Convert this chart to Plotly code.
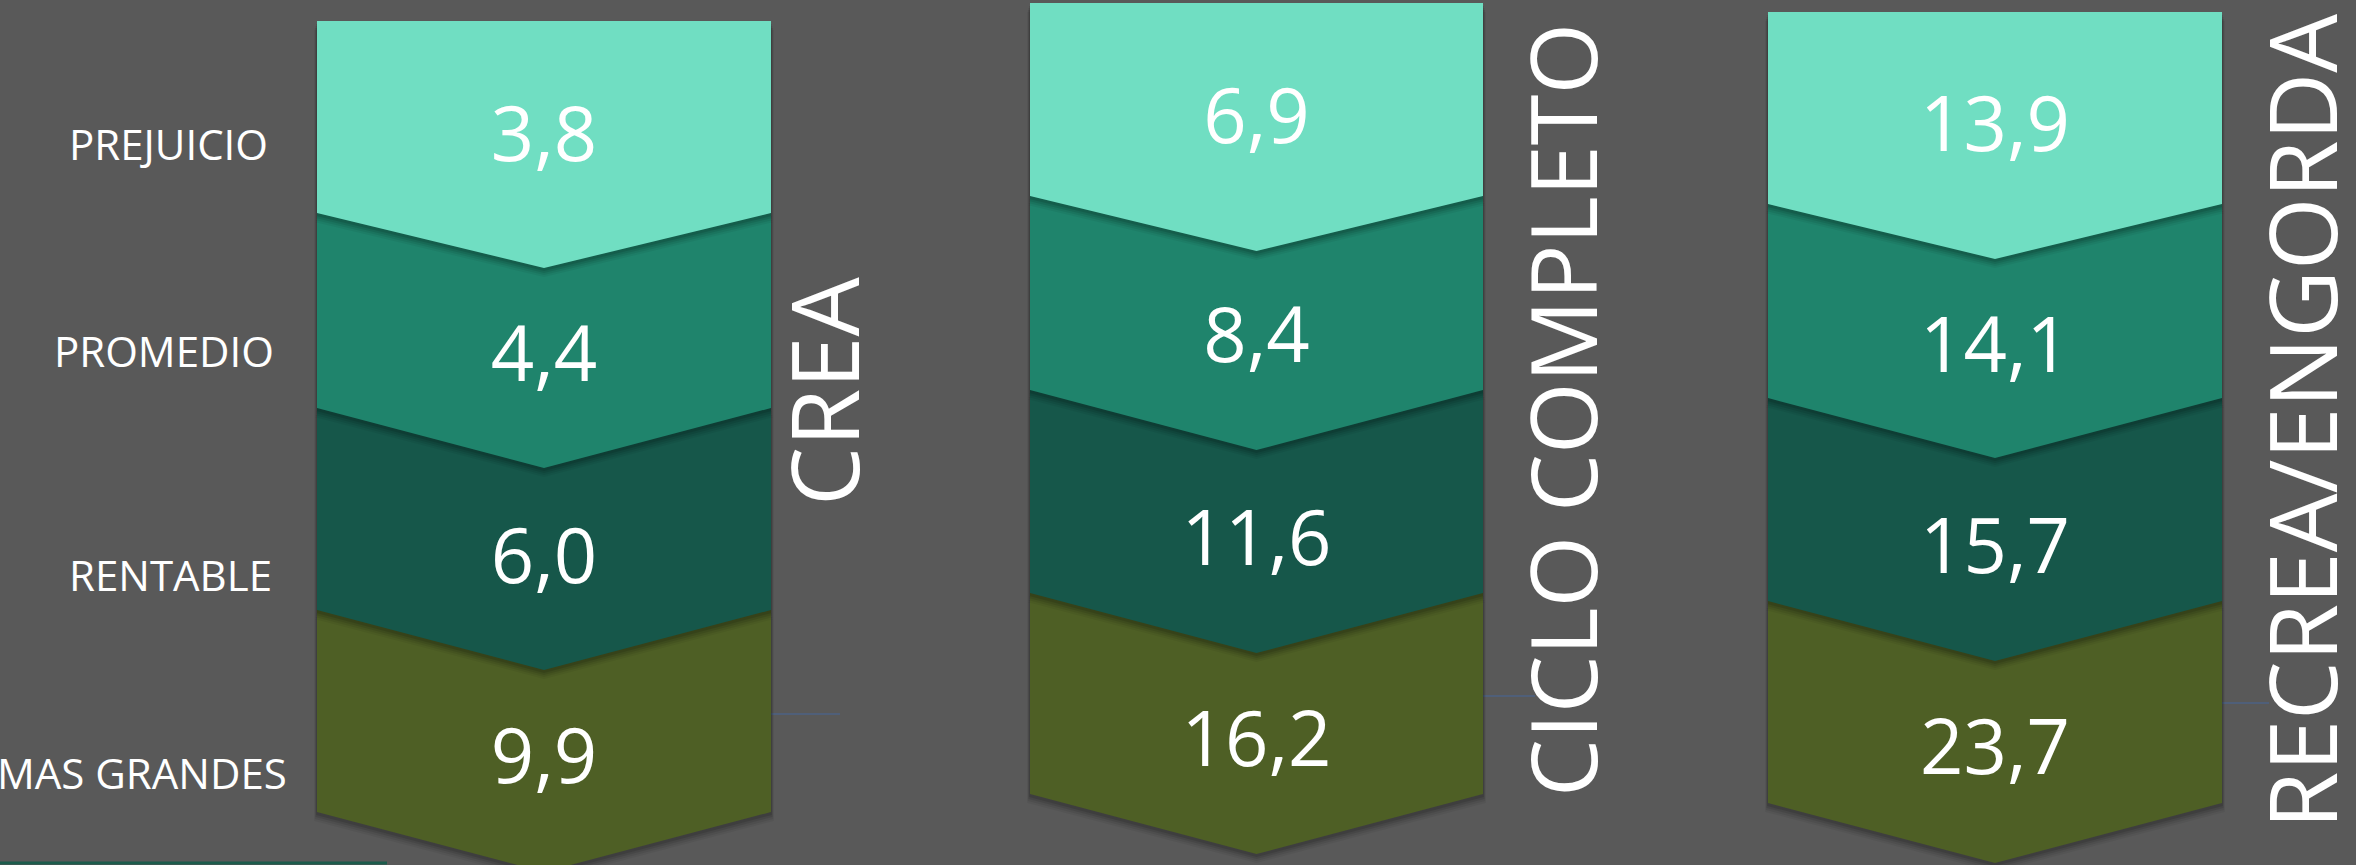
import plotly.graph_objects as go

# ---- data ----
categories = ["PREJUICIO", "PROMEDIO", "RENTABLE", "MAS GRANDES"]
groups = ["CREA", "CICLO COMPLETO", "RECREA/ENGORDA"]
crea_values = ["3,8", "4,4", "6,0", "9,9"]
ciclo_values = ["6,9", "8,4", "11,6", "16,2"]
recrea_values = ["13,9", "14,1", "15,7", "23,7"]

# ---- layout / style ----
W, H = 2356, 865
BG = "#595959"
colors = ["#70dec2", "#1f846c", "#16574a", "#4e5f25"]
FONT = "Open Sans"

columns = [
    dict(L=317, R=771, top=21, sides=[213, 408, 610, 812], vals=crea_values,
         vy=[142, 362, 564, 764], title_x=823, title_y=392, title_size=94,
         line=(771, 840, 714)),
    dict(L=1030, R=1483, top=3, sides=[196, 390, 593, 794], vals=ciclo_values,
         vy=[124, 343, 546, 747], title_x=1561, title_y=410, title_size=92,
         line=(1483, 1535, 696)),
    dict(L=1768, R=2222, top=12, sides=[204, 398, 601, 803], vals=recrea_values,
         vy=[132, 353, 554, 755], title_x=2301, title_y=422, title_size=93,
         line=(2222, 2269, 703)),
]
depths = [55, 60, 60, 60]
label_pos = [(270, 143), (276, 350), (274, 574), (289, 772)]

fig = go.Figure()

def poly(L, R, top, side, tip_depth, dx=0, dy=0):
    C = (L + R) / 2
    xs = [L + dx, R + dx, R + dx, C + dx, L + dx, L + dx]
    ys = [top + dy, top + dy, side + dy, side + tip_depth + dy, side + dy, top + dy]
    return xs, ys

for col in columns:
    L, R = col["L"], col["R"]
    n = len(col["vals"])
    for k in reversed(range(n)):
        top = col["top"] if k == 0 else col["sides"][k - 1]
        side = col["sides"][k]
        d = depths[k]
        # soft shadow layers
        for off, op in [(9, 0.05), (7, 0.07), (5, 0.09), (3, 0.11)]:
            xs, ys = poly(L - off * 0.3, R + off * 0.3, top, side, d, 0, off)
            fig.add_trace(go.Scatter(x=xs, y=ys, mode="lines", fill="toself",
                                     fillcolor=f"rgba(0,0,0,{op})", line=dict(width=0),
                                     hoverinfo="skip", showlegend=False))
        xs, ys = poly(L, R, top, side, d)
        fig.add_trace(go.Scatter(x=xs, y=ys, mode="lines", fill="toself",
                                 fillcolor=colors[k], line=dict(width=0),
                                 hoverinfo="skip", showlegend=False))
    # values
    fig.add_trace(go.Scatter(x=[(L + R) / 2] * n, y=col["vy"], mode="text",
                             text=col["vals"], textposition="middle center",
                             textfont=dict(family=FONT, size=76, color="white"),
                             hoverinfo="skip", showlegend=False))

shapes = []
for col in columns:
    x0, x1, y = col["line"]
    shapes.append(dict(type="line", x0=x0, x1=x1, y0=y, y1=y, xref="x", yref="y",
                       line=dict(color="#4d6285", width=1.5), layer="below"))
shapes.append(dict(type="line", x0=0, x1=387, y0=863, y1=863, xref="x", yref="y",
                   line=dict(color="#1c5c4c", width=3), layer="below"))

annotations = []
for (lx, ly), cat in zip(label_pos, categories):
    annotations.append(dict(x=lx, y=ly, xref="x", yref="y", text=cat, showarrow=False,
                            xanchor="right", yanchor="middle",
                            font=dict(family=FONT, size=42, color="white")))
for col, g in zip(columns, groups):
    annotations.append(dict(x=col["title_x"], y=col["title_y"], xref="x", yref="y",
                            text=g, showarrow=False, textangle=-90,
                            xanchor="center", yanchor="middle",
                            font=dict(family=FONT, size=col["title_size"], color="white")))

fig.update_layout(
    width=W, height=H, margin=dict(l=0, r=0, t=0, b=0),
    paper_bgcolor=BG, plot_bgcolor=BG,
    xaxis=dict(range=[0, W], visible=False, fixedrange=True),
    yaxis=dict(range=[H, 0], visible=False, fixedrange=True),
    shapes=shapes, annotations=annotations, showlegend=False,
)

fig.write_html("out.html", config={"displayModeBar": False},
               post_script="document.body.style.margin='0';document.body.style.overflow='hidden';document.body.style.background='#595959';")
